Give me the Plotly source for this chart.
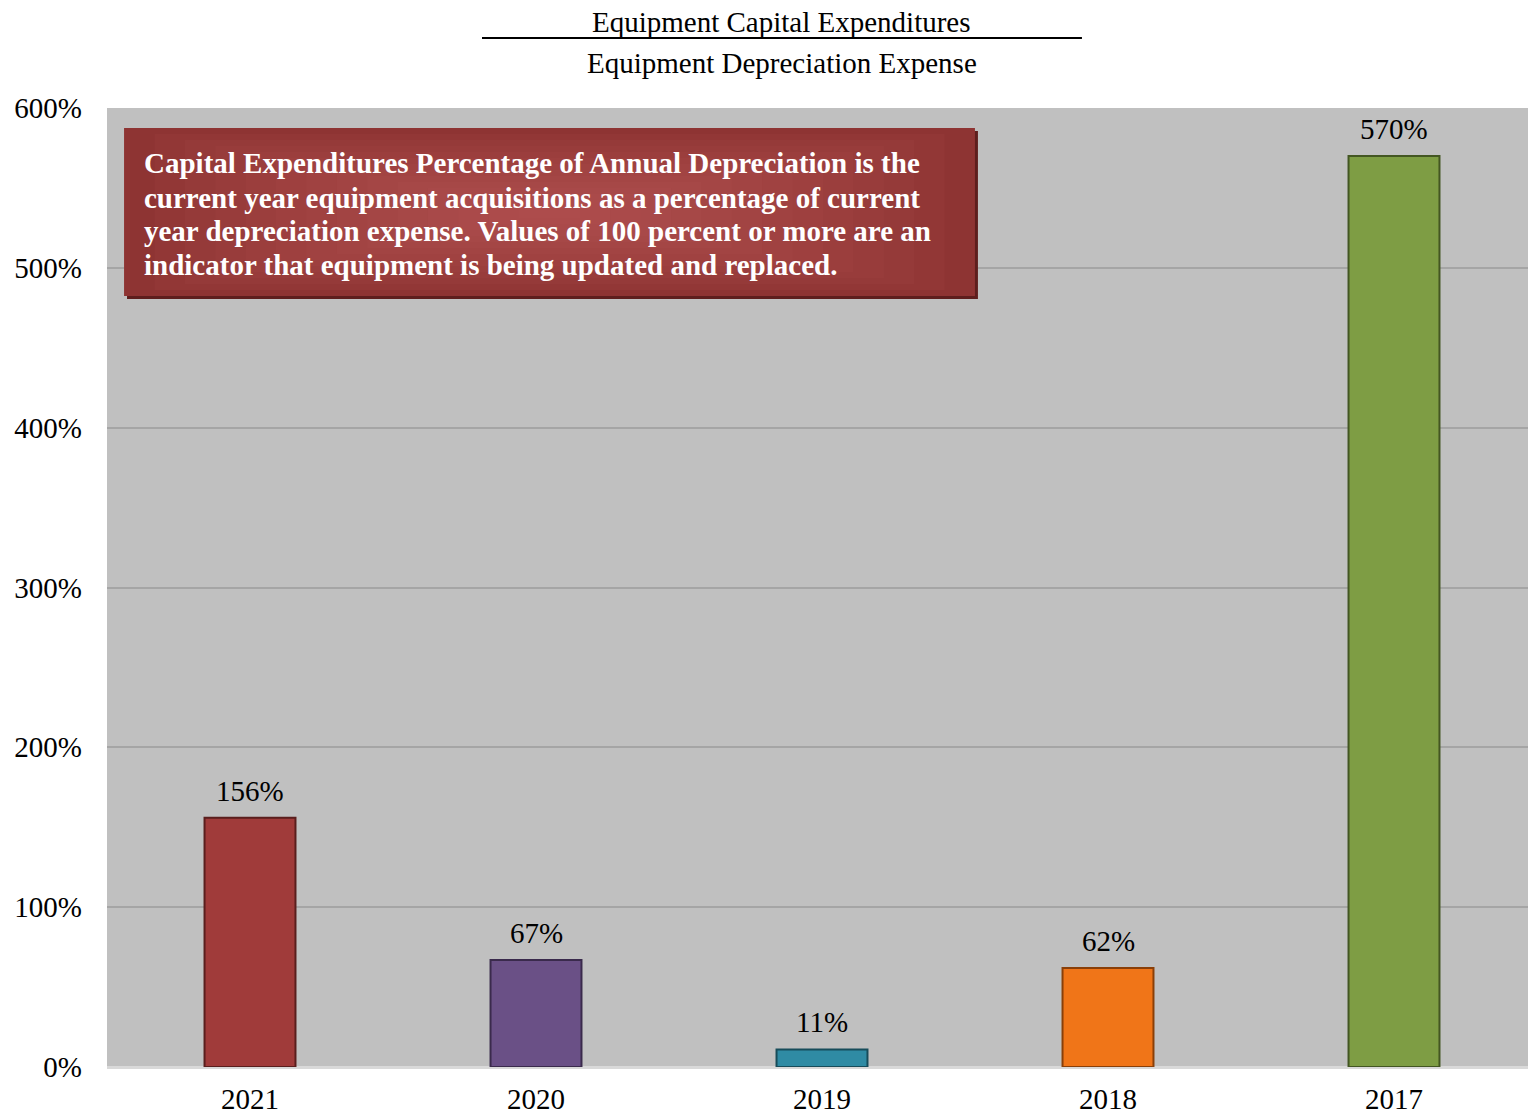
import plotly.graph_objects as go

years = ["2021", "2020", "2019", "2018", "2017"]
values = [156, 67, 11, 62, 570]
labels = ["156%", "67%", "11%", "62%", "570%"]
colors = ["#A03B3A", "#6A5086", "#2F8BA4", "#F07518", "#7E9D44"]
edge_colors = ["#5A1E1D", "#3A2A4C", "#174C5A", "#8A3F08", "#435622"]
y_ticks = [0, 100, 200, 300, 400, 500, 600]
y_tick_text = ["0%", "100%", "200%", "300%", "400%", "500%", "600%"]

title_top = "Equipment Capital Expenditures"
title_bottom = "Equipment Depreciation Expense"
note_lines = [
    "Capital Expenditures Percentage of Annual Depreciation is the",
    "current year equipment acquisitions as a percentage of current",
    "year depreciation expense. Values of 100 percent or more are an",
    "indicator that equipment is being updated and replaced.",
]

FONT = "Liberation Serif, Times New Roman, serif"
FS = 29

fig = go.Figure()
fig.add_trace(go.Bar(
    x=years, y=values,
    marker=dict(color=colors, line=dict(color=edge_colors, width=2)),
    width=0.318, cliponaxis=False,
))

shapes = []
shapes.append(dict(type="line", xref="paper", yref="paper", x0=0.2639, x1=0.6861,
                   y0=1.0730, y1=1.0730, line=dict(color="#000000", width=2)))
shapes.append(dict(type="rect", xref="paper", yref="paper", x0=0.0141, x1=0.6129,
                   y0=0.8008, y1=0.9760, fillcolor="#5E1E1D", line=dict(width=0), layer="above"))
shapes.append(dict(type="rect", xref="paper", yref="paper", x0=0.0120, x1=0.6108,
                   y0=0.8040, y1=0.9792, fillcolor="#8E3433", line=dict(width=0), layer="above"))
cx, cy = 0.3114, 0.8916
n = 14
for i in range(1, n):
    f = 1 - i / n
    shapes.append(dict(type="rect", xref="paper", yref="paper",
                       x0=cx - 0.2994 * f, x1=cx + 0.2994 * f,
                       y0=cy - 0.0876 * f, y1=cy + 0.0876 * f,
                       fillcolor="#CC625E", opacity=0.07, line=dict(width=0), layer="above"))

annotations = [
    dict(text=title_top, xref="paper", yref="paper", x=0.475, y=1.0897,
         showarrow=False, font=dict(family=FONT, size=FS, color="#000000"),
         xanchor="center", yanchor="middle"),
    dict(text=title_bottom, xref="paper", yref="paper", x=0.475, y=1.0469,
         showarrow=False, font=dict(family=FONT, size=FS, color="#000000"),
         xanchor="center", yanchor="middle"),
]
note_y = [0.9427, 0.9062, 0.8718, 0.8363]
for line, yy in zip(note_lines, note_y):
    annotations.append(dict(text="<b>" + line + "</b>", xref="paper", yref="paper",
                            x=0.0245, y=yy, showarrow=False, align="left",
                            xanchor="left", yanchor="middle",
                            font=dict(family=FONT, size=FS, color="#FFFFFF")))
for idx, (v, lab) in enumerate(zip(values, labels)):
    annotations.append(dict(text=lab, x=idx, y=v, xref="x", yref="y", showarrow=False,
                            xanchor="center", yanchor="bottom", yshift=9,
                            font=dict(family=FONT, size=FS, color="#000000")))

fig.update_layout(
    width=1528, height=1115,
    margin=dict(l=107, r=0, t=108, b=48),
    paper_bgcolor="#FFFFFF", plot_bgcolor="#C0C0C0",
    showlegend=False,
    shapes=shapes, annotations=annotations,
    font=dict(family=FONT, size=FS, color="#000000"),
)
fig.update_xaxes(type="category", showgrid=False, showline=False, ticks="",
                 range=[-0.5, 4.4685], ticklabelstandoff=12,
                 tickfont=dict(family=FONT, size=FS, color="#000000"))
fig.update_yaxes(range=[0, 600], tickvals=y_ticks, ticktext=y_tick_text,
                 showgrid=True, gridcolor="#A5A5A5", gridwidth=1.5,
                 zeroline=True, zerolinecolor="#D9D9D9", zerolinewidth=3,
                 ticks="", ticklabelstandoff=24,
                 tickfont=dict(family=FONT, size=FS, color="#000000"))

fig.write_html("out.html")
